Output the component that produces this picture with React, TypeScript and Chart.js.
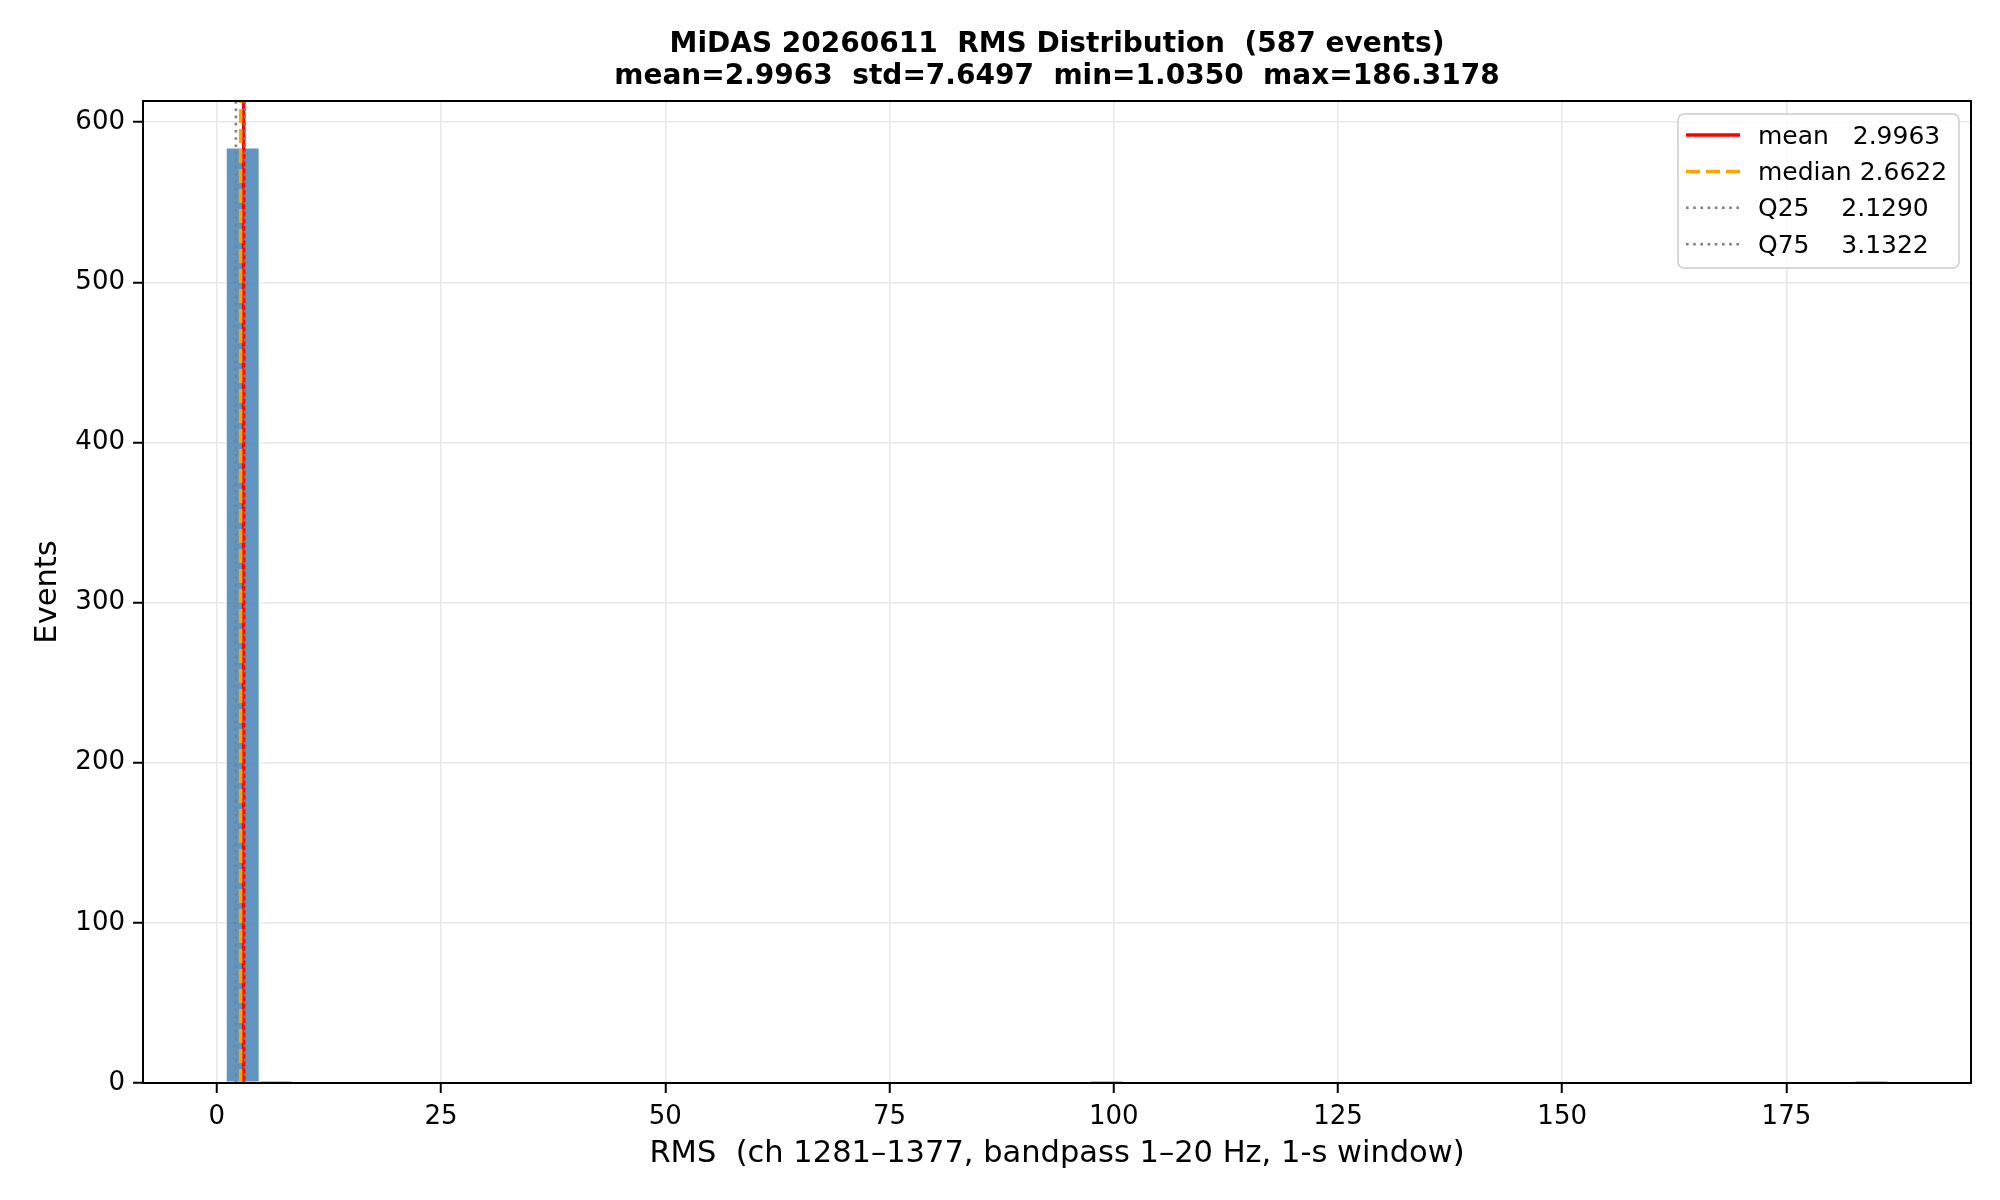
import React, { useEffect, useRef } from 'react';
import { Chart, registerables } from 'chart.js';

Chart.register(...registerables);

// histogram: 50 bins between min and max RMS
const rmsMin = 1.035;
const rmsMax = 186.3178;
const binCount = 50;
const binCounts = [
  584, 1, 0, 0, 0, 0, 0, 0, 0, 0,
  0, 0, 0, 0, 0, 0, 0, 0, 0, 0,
  0, 0, 0, 0, 0, 0, 1, 0, 0, 0,
  0, 0, 0, 0, 0, 0, 0, 0, 0, 0,
  0, 0, 0, 0, 0, 0, 0, 0, 0, 1,
];

const statNames = ['mean', 'median', 'Q25', 'Q75'];
const statValues = [2.9963, 2.6622, 2.129, 3.1322];
const statLabels = ['mean   2.9963', 'median 2.6622', 'Q25    2.1290', 'Q75    3.1322'];

const xTicks = [0, 25, 50, 75, 100, 125, 150, 175];
const yTicks = [0, 100, 200, 300, 400, 500, 600];

const titleLines = [
  'MiDAS 20260611  RMS Distribution  (587 events)',
  'mean=2.9963  std=7.6497  min=1.0350  max=186.3178',
];
const xLabel = 'RMS  (ch 1281\u20131377, bandpass 1\u201320 Hz, 1-s window)';
const yLabel = 'Events';

const FONT = '"DejaVu Sans", sans-serif';

const lineStyles: Record<string, { color: string; width: number; dash: number[] }> = {
  mean: { color: '#ff0000', width: 3.5, dash: [] },
  median: { color: '#ffa500', width: 3.5, dash: [14, 6] },
  Q25: { color: '#808080', width: 2.6, dash: [2.6, 4.6] },
  Q75: { color: '#808080', width: 2.6, dash: [2.6, 4.6] },
};

const App: React.FC = () => {
  const canvasRef = useRef<HTMLCanvasElement>(null);

  useEffect(() => {
    if (!canvasRef.current) return;
    document.body.style.margin = '0';

    const binWidth = (rmsMax - rmsMin) / binCount;
    const span = rmsMax - rmsMin;
    const xMin = rmsMin - span * 0.05;
    const xMax = rmsMax + span * 0.05;
    const yMax = Math.max(...binCounts) * 1.05;

    const bars = binCounts.map((c, i) => ({ x: rmsMin + binWidth * (i + 0.5), y: c }));

    const statSets = statNames.map((name, i) => ({
      type: 'line' as const,
      label: statLabels[i],
      data: [{ x: statValues[i], y: 0 }, { x: statValues[i], y: yMax }],
      borderColor: lineStyles[name].color,
      borderWidth: lineStyles[name].width,
      borderDash: lineStyles[name].dash,
      borderCapStyle: 'butt' as const,
      pointRadius: 0,
      fill: false,
      order: 4 - i,
    }));

    const decor = {
      id: 'decor',
      afterDraw(chart: Chart) {
        const { ctx, chartArea: a } = chart;
        ctx.save();
        // frame
        ctx.strokeStyle = '#000';
        ctx.lineWidth = 2;
        ctx.strokeRect(a.left, a.top, a.right - a.left, a.bottom - a.top);

        // title
        ctx.fillStyle = '#000';
        ctx.textAlign = 'center';
        ctx.textBaseline = 'middle';
        ctx.font = `bold 28px ${FONT}`;
        const cx = (a.left + a.right) / 2;
        ctx.fillText(titleLines[0], cx, 44.5);
        ctx.fillText(titleLines[1], cx, 76.5);

        // axis labels
        ctx.font = `30.5px ${FONT}`;
        ctx.fillText(xLabel, cx, 1154);
        ctx.save();
        ctx.translate(48, (a.top + a.bottom) / 2);
        ctx.rotate(-Math.PI / 2);
        ctx.fillText(yLabel, 0, 0);
        ctx.restore();

        // legend
        const lx = 1678, ly = 114, lw = 281, lh = 154, r = 6;
        ctx.beginPath();
        ctx.moveTo(lx + r, ly);
        ctx.arcTo(lx + lw, ly, lx + lw, ly + lh, r);
        ctx.arcTo(lx + lw, ly + lh, lx, ly + lh, r);
        ctx.arcTo(lx, ly + lh, lx, ly, r);
        ctx.arcTo(lx, ly, lx + lw, ly, r);
        ctx.closePath();
        ctx.fillStyle = 'rgba(255,255,255,0.8)';
        ctx.fill();
        ctx.strokeStyle = '#cccccc';
        ctx.lineWidth = 1.5;
        ctx.stroke();

        ctx.font = `25px ${FONT}`;
        ctx.textAlign = 'left';
        statNames.forEach((name, i) => {
          const y = 135 + i * 36.4;
          const st = lineStyles[name];
          ctx.beginPath();
          ctx.strokeStyle = st.color;
          ctx.lineWidth = st.width;
          ctx.setLineDash(st.dash);
          ctx.moveTo(1686, y);
          ctx.lineTo(1740, y);
          ctx.stroke();
          ctx.setLineDash([]);
          ctx.fillStyle = '#000';
          ctx.fillText(statLabels[i], 1758, y + 2);
        });
        ctx.restore();
      },
    };

    const chart = new Chart(canvasRef.current, {
      type: 'bar',
      data: {
        datasets: [
          {
            type: 'bar',
            label: 'RMS',
            data: bars,
            backgroundColor: 'rgba(70,130,180,0.85)',
            borderColor: '#ffffff',
            borderWidth: 1,
            borderSkipped: false,
            barPercentage: 1,
            categoryPercentage: 1,
            order: 10,
          },
          ...statSets,
        ] as any,
      },
      options: {
        animation: false,
        responsive: false,
        devicePixelRatio: 1,
        layout: { padding: { left: 0, top: 101, right: 29, bottom: 0 } },
        plugins: {
          legend: { display: false },
          title: { display: false },
          tooltip: { enabled: false },
        },
        scales: {
          x: {
            type: 'linear',
            min: xMin,
            max: xMax,
            offset: false,
            afterBuildTicks: (s: any) => { s.ticks = xTicks.map(v => ({ value: v })); },
            afterFit: (s: any) => { s.height = 117; },
            grid: {
              offset: false,
              color: '#e8e8e8',
              lineWidth: 1.5,
              tickColor: '#000',
              tickLength: 10,
              tickWidth: 2,
            },
            border: { display: false },
            ticks: {
              color: '#000',
              font: { family: FONT, size: 26 },
              padding: 8.5,
              maxRotation: 0,
              autoSkip: false,
            },
          },
          y: {
            type: 'linear',
            min: 0,
            max: yMax,
            afterBuildTicks: (s: any) => { s.ticks = yTicks.map(v => ({ value: v })); },
            afterFit: (s: any) => { s.width = 143; },
            grid: {
              color: '#e8e8e8',
              lineWidth: 1.5,
              tickColor: '#000',
              tickLength: 10,
              tickWidth: 2,
            },
            border: { display: false },
            ticks: {
              color: '#000',
              font: { family: FONT, size: 26 },
              padding: 8,
              autoSkip: false,
            },
          },
        },
      },
      plugins: [decor],
    });

    return () => { chart.destroy(); };
  }, []);

  return (
    <div style={{ width: 2000, height: 1200, background: '#fff' }}>
      <canvas ref={canvasRef} width={2000} height={1200}></canvas>
    </div>
  );
};

export default App;
